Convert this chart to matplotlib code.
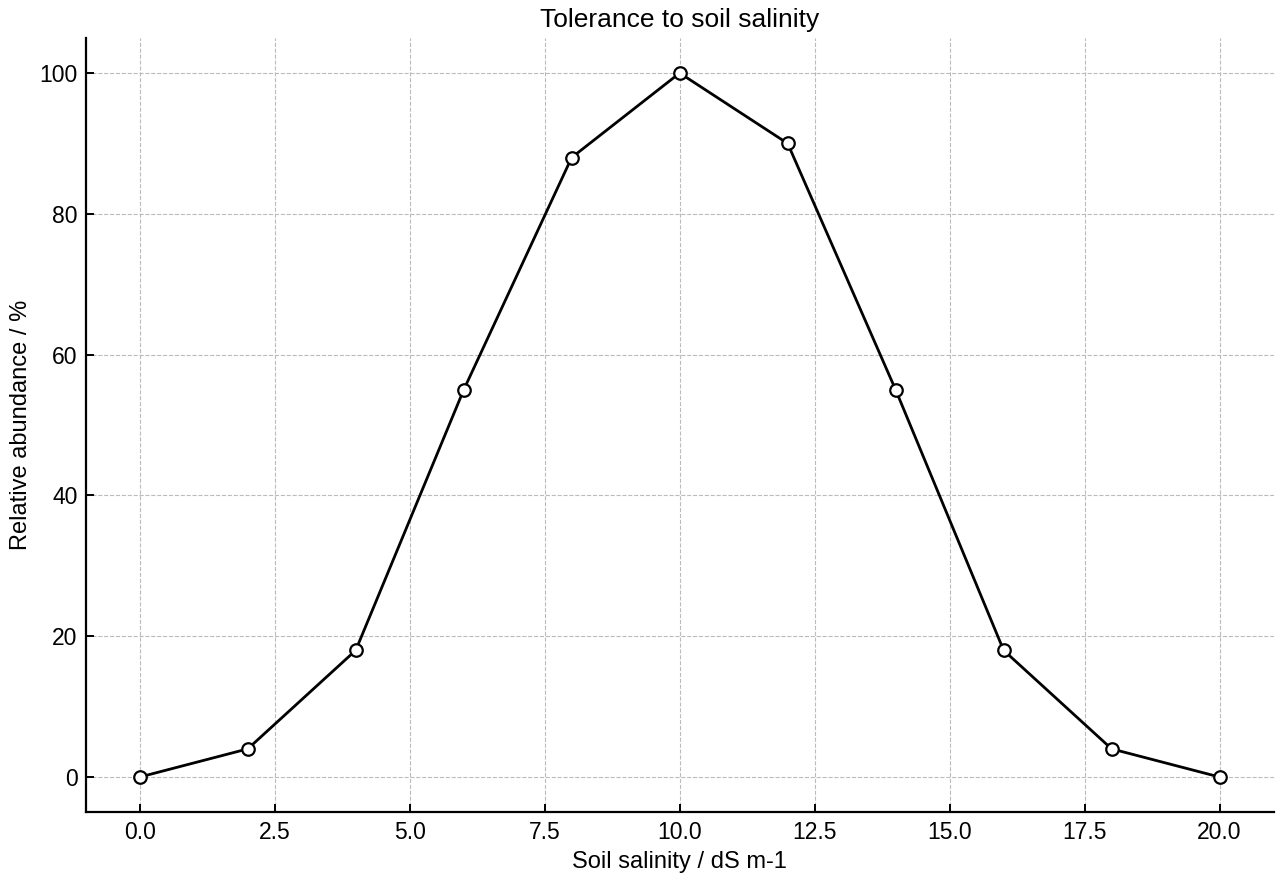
import matplotlib
matplotlib.use('Agg')
import matplotlib.pyplot as plt

plt.rcParams['font.family'] = ['Liberation Sans', 'DejaVu Sans']

salinity = [0, 2, 4, 6, 8, 10, 12, 14, 16, 18, 20]
abundance = [0, 4, 18, 55, 88, 100, 90, 55, 18, 4, 0]

fig, ax = plt.subplots(figsize=(12.8, 8.8), dpi=100)
ax.plot(salinity, abundance, color='black', linewidth=2,
        marker='o', markersize=9, markerfacecolor='white',
        markeredgecolor='black', markeredgewidth=1.6)

ax.set_title('Tolerance to soil salinity', fontsize=19, pad=8)
ax.set_xlabel('Soil salinity / dS m-1', fontsize=17, labelpad=5)
ax.set_ylabel('Relative abundance / %', fontsize=17, labelpad=5)

ax.grid(True, linestyle='--', color='#bbbbbb', linewidth=0.8)
ax.spines['top'].set_visible(False)
ax.spines['right'].set_visible(False)
ax.spines['left'].set_linewidth(1.6)
ax.spines['bottom'].set_linewidth(1.6)
ax.tick_params(direction='in', length=6, width=1.4, labelsize=16.5, pad=6)

plt.subplots_adjust(left=0.067, right=0.995, top=0.957, bottom=0.077)
plt.savefig('out.png', dpi=100)
